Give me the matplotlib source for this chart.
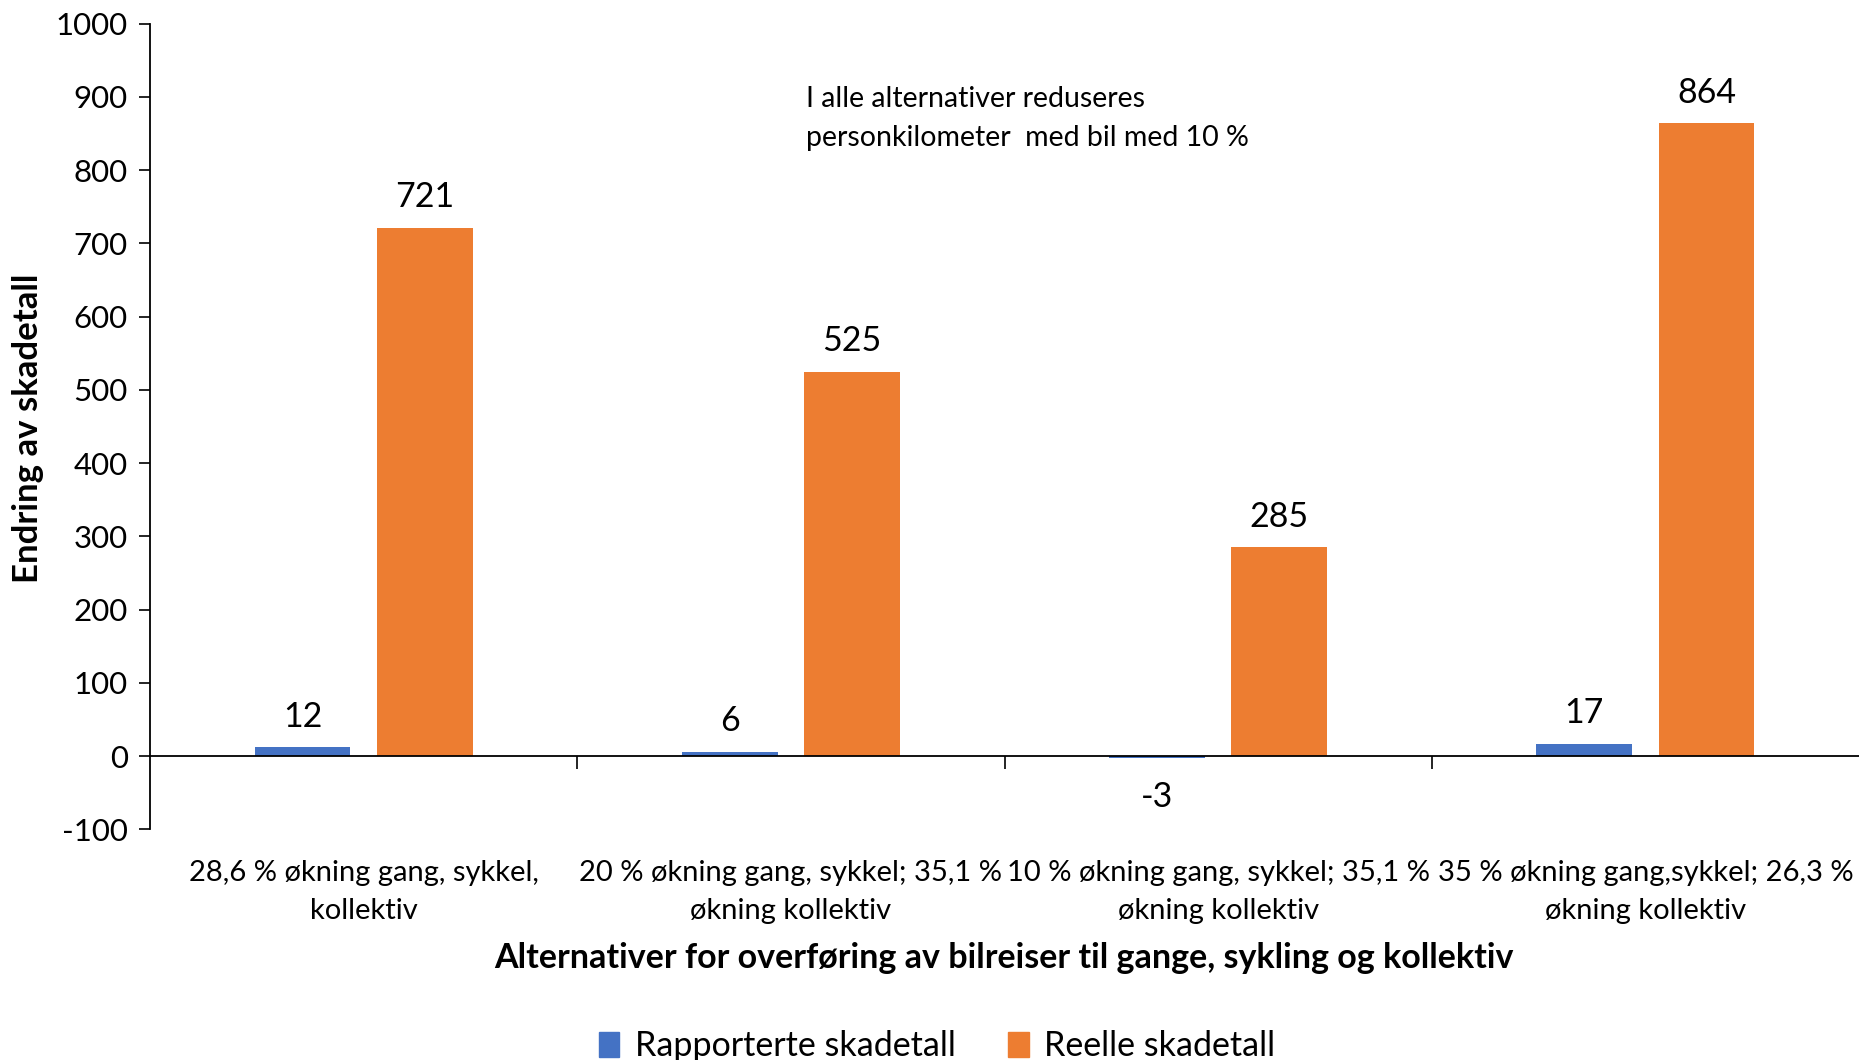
import matplotlib
matplotlib.use('Agg')
import matplotlib.pyplot as plt
from matplotlib.patches import Patch
import numpy as np

plt.rcParams['font.family'] = ['Lato', 'DejaVu Sans']
plt.rcParams['axes.unicode_minus'] = False

BLUE_COLOR = '#4472C4'
ORANGE_COLOR = '#ED7D31'

categories = ['28,6 % økning gang, sykkel,\nkollektiv',
              '20 % økning gang, sykkel; 35,1 %\nøkning kollektiv',
              '10 % økning gang, sykkel; 35,1 %\nøkning kollektiv',
              '35 % økning gang,sykkel; 26,3 %\nøkning kollektiv']
rapporterte = [12, 6, -3, 17]
reelle = [721, 525, 285, 864]
y_ticks = [-100, 0, 100, 200, 300, 400, 500, 600, 700, 800, 900, 1000]

fig = plt.figure(figsize=(18.59, 10.6), dpi=100)
ax = fig.add_axes((0.0807, 0.2177, 0.9193, 0.7599))

index = np.arange(len(categories))
width = 0.224
offset = 0.143
bars_a = ax.bar(index - offset, rapporterte, width, color=BLUE_COLOR,
                label='Rapporterte skadetall')
bars_b = ax.bar(index + offset, reelle, width, color=ORANGE_COLOR,
                label='Reelle skadetall')

# value labels, negative ones go below the bar
for bars in (bars_a, bars_b):
    for b in bars:
        v = b.get_height()
        xc = b.get_x() + b.get_width() / 2
        dy = 22 if v >= 0 else -28
        ax.annotate(str(int(v)), (xc, v), xytext=(0, dy),
                    textcoords='offset points', ha='center', va='center',
                    fontsize=24.5)

ax.set_xlim(-0.5, len(categories) - 0.5)
ax.set_ylim(-100, 1000)
ax.set_yticks(y_ticks)
ax.tick_params(axis='y', labelsize=22.5, length=8, width=1.2, direction='out',
               pad=8)

# x axis sits on zero, category separators as minor ticks
ax.spines['top'].set_visible(False)
ax.spines['right'].set_visible(False)
ax.spines['bottom'].set_position(('data', 0))
ax.spines['bottom'].set_linewidth(1.3)
ax.spines['left'].set_linewidth(1.3)
ax.set_xticks(index)
ax.set_xticklabels(categories, fontsize=21, linespacing=1.55)
ax.set_xticks(index[:-1] + 0.5, minor=True)
ax.tick_params(axis='x', which='major', length=0, pad=75)
ax.tick_params(axis='x', which='minor', length=9, width=1.2, direction='out')

fig.text(0.5403, 1 - 958 / 1060,
         'Alternativer for overføring av bilreiser til gange, sykling og kollektiv',
         ha='center', va='center', fontsize=24.5, fontweight='bold')
fig.text(28 / 1859, 1 - 428 / 1060, 'Endring av skadetall', rotation=90,
         ha='center', va='center', fontsize=25, fontweight='bold')

fig.text(806 / 1859, 1 - 86 / 1060,
         'I alle alternativer reduseres\npersonkilometer  med bil med 10 %',
         ha='left', va='top', fontsize=20.5, linespacing=1.6)

handles = [Patch(color=BLUE_COLOR, label='Rapporterte skadetall'),
           Patch(color=ORANGE_COLOR, label='Reelle skadetall')]
fig.legend(handles=handles, loc='center', bbox_to_anchor=(0.504, 1 - 1046 / 1060),
           ncol=2, frameon=False, fontsize=24.5, handlelength=0.6,
           handleheight=0.75, handletextpad=0.45, columnspacing=1.55)

fig.savefig('out.png', dpi=100)
